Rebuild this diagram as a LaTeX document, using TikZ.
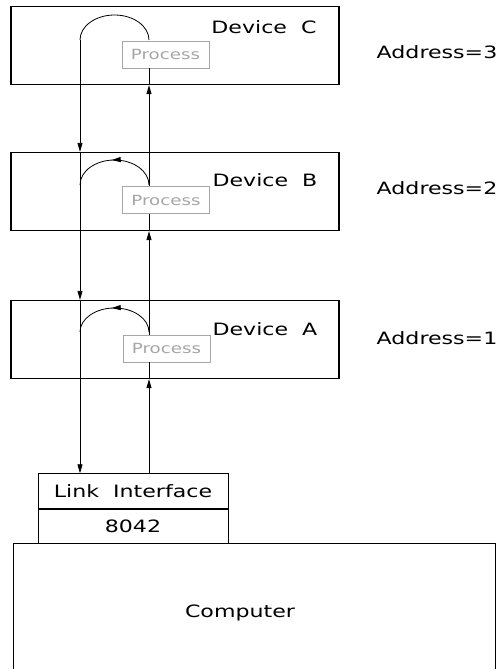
\documentclass[tikz,border=0pt]{standalone}
\usepackage{fontspec}
\newfontfamily\cadfont{DejaVu Sans}[FakeStretch=1.3]
\usetikzlibrary{arrows.meta,positioning,decorations.markings}
\tikzset{
    device style/.style={draw,line width=1.3pt,minimum width=328pt,minimum height=78pt,inner sep=0pt},
    process color/.style={gray!70},
    process style/.style={draw=gray!70,fill=white,text=gray!70,line width=0.8pt,minimum width=87pt,minimum height=27pt,inner sep=0pt,font=\cadfont\fontsize{14}{16}\selectfont},
    link style/.style={draw,line width=0.9pt,minimum width=190pt,minimum height=34.5pt,inner sep=0pt},
    wire/.style={line width=0.8pt},
    arr/.style={wire,-{Triangle[length=9pt,width=5pt]}},
    rmidarrow/.style={postaction=decorate,decoration={markings, mark=at position #1 with {\arrowreversed{Triangle[length=9pt,width=5pt]}}}},
    rmidarrow/.default=.5,
}
\tikzset{every node/.style={font=\cadfont\fontsize{17}{20}\selectfont}}

\begin{document}
\begin{tikzpicture}[x=1pt,y=-1pt]
        \useasboundingbox (0,0) rectangle (498,669);

        % the three devices
        \node[device style] (devC) at (175,45.5) {};
        \node[device style] (devB) at (175,191.5) {};
        \node[device style] (devA) at (175,339.5) {};
        \node (nameC) at (264,27) {Device\ \ C};
        \node (nameB) at (265,180) {Device\ \ B};
        \node (nameA) at (265,329) {Device\ \ A};
        \node (addrC) at (437,52) {Address=3};
        \node (addrB) at (437,188) {Address=2};
        \node (addrA) at (437,338) {Address=1};

        % link interface and computer
        \node[link style] (link) at (133,491) {Link\ \ Interface};
        \node[link style, below=0pt of link] (chip) {8042};
        \draw[line width=1pt] (13,669) -- (13,543) -| (495,669);
        \node (computer) at (240,613) {Computer};

        % loops inside the devices
        \coordinate (Cl) at (80,40);
        \coordinate (Bl) at (80,185);
        \coordinate (Al) at (80,332);
        \draw[wire] (Cl) arc[start angle=180, end angle=360, x radius=34.5, y radius=25];
        \draw[wire, rmidarrow=.47] (Bl) arc[start angle=180, end angle=360, x radius=34.5, y radius=25];
        \draw[wire, rmidarrow=.47] (Al) arc[start angle=180, end angle=360, x radius=34.5, y radius=24];

        % down going line
        \draw[arr] (Cl) -- (devB.north -| Cl);
        \draw[arr] (devB.north -| Cl) -- (devA.north -| Cl);
        \draw[arr] (devA.north -| Cl) -- (link.north -| Cl);

        % process boxes
        \node[process style] (procC) at (165.5,54.5) {Process};
        \node[process style] (procB) at (166,200) {Process};
        \node[process style] (procA) at (166.5,348.5) {Process};

        % up going line
        \coordinate (rx) at (149,0);
        \draw[arr] (link.north -| rx) -- (devA.south -| rx);
        \draw[wire] (devA.south -| rx) -- (procA.south -| rx);
        \draw[arr] (procA.north -| rx) -- (devB.south -| rx);
        \draw[wire] (devB.south -| rx) -- (procB.south -| rx);
        \draw[arr] (procB.north -| rx) -- (devC.south -| rx);
        \draw[wire] (devC.south -| rx) -- (procC.south -| rx);
    \end{tikzpicture}
\end{document}
